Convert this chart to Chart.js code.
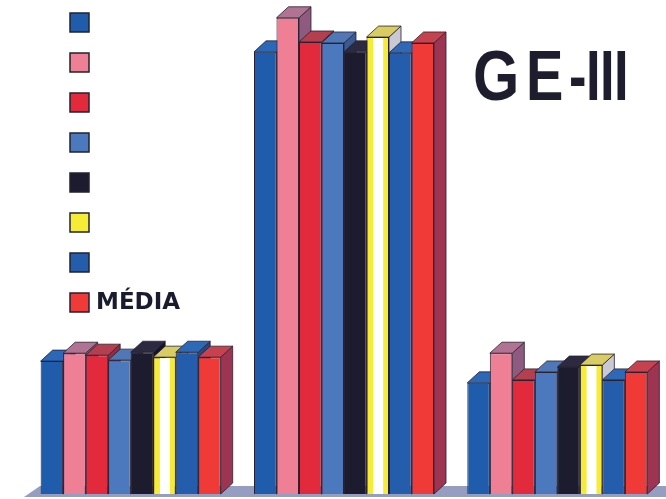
<!DOCTYPE html>
<html>
<head>
<meta charset="utf-8">
<title>GE-III</title>
<script src="https://cdn.jsdelivr.net/npm/chart.js@4.4.1/dist/chart.umd.min.js"></script>
<style>
  html, body { margin: 0; padding: 0; background: #ffffff; }
  #chart { display: block; }
</style>
</head>
<body>
<canvas id="chart" width="666" height="499"></canvas>
<script>
// Data (heights as % of the tallest scale)
const groups = ['', '', ''];
const seriesLabels = ['', '', '', '', '', '', '', 'MÉDIA'];
const serie1 = [26.9, 89.5, 22.5];
const serie2 = [28.5, 96.4, 28.5];
const serie3 = [28.1, 91.5, 23.1];
const serie4 = [27.1, 91.3, 24.7];
const serie5 = [28.7, 89.5, 25.7];
const serie6 = [27.7, 92.5, 26.1];
const serie7 = [28.7, 89.3, 23.1];
const media  = [27.7, 91.3, 24.7];

const frontColors = ['#1f5cab', '#ef7f94', '#e32a3c', '#4c78bd', '#1d1c2e', '#f6ec35', '#235dab', '#ef3a38'];
const topColors   = ['#2c68b8', '#b07392', '#b4404f', '#5078b6', '#2b2a40', '#d9cc62', '#2e69b8', '#c7424f'];
const sideColors  = ['#173f78', '#8f5a7f', '#8f2d42', '#3a5a94', '#14132a', '#c9c9d6', '#1d4a88', '#9c3452'];

const DX = 12, DY = 11;

function poly(ctx, pts, fill) {
    ctx.beginPath();
    ctx.moveTo(pts[0][0], pts[0][1]);
    for (let k = 1; k < pts.length; k++) ctx.lineTo(pts[k][0], pts[k][1]);
    ctx.closePath();
    ctx.fillStyle = fill;
    ctx.fill();
    ctx.strokeStyle = '#2a2030';
    ctx.lineWidth = 0.8;
    ctx.stroke();
}

// 3D look: floor, side and top faces drawn behind the library's front faces
const bar3d = {
    id: 'bar3d',
    beforeDatasetsDraw(chart) {
        const ctx = chart.ctx;
        const area = chart.chartArea;
        const base = chart.scales.y.getPixelForValue(0);
        ctx.save();
        ctx.beginPath();
        ctx.moveTo(area.left, base + 3);
        ctx.lineTo(area.left + 16, base - 8);
        ctx.lineTo(area.right + 20, base - 8);
        ctx.lineTo(area.right + 20, base + 3);
        ctx.closePath();
        ctx.fillStyle = '#959dc0';
        ctx.fill();
        chart.data.datasets.forEach((ds, i) => {
            const meta = chart.getDatasetMeta(i);
            meta.data.forEach(bar => {
                const p = bar.getProps(['x', 'y', 'base', 'width'], true);
                const l = p.x - p.width / 2, r = p.x + p.width / 2;
                poly(ctx, [[r, p.y], [r + DX, p.y - DY], [r + DX, p.base - DY], [r, p.base]], sideColors[i]);
                poly(ctx, [[l, p.y], [l + DX, p.y - DY], [r + DX, p.y - DY], [r, p.y]], topColors[i]);
            });
        });
        ctx.restore();
    },
    afterDatasetsDraw(chart) {
        // white stripe down the yellow bars
        const ctx = chart.ctx;
        const meta = chart.getDatasetMeta(5);
        ctx.save();
        ctx.fillStyle = '#ffffff';
        meta.data.forEach(bar => {
            const p = bar.getProps(['x', 'y', 'base', 'width'], true);
            const l = p.x - p.width / 2;
            ctx.fillRect(l + p.width * 0.3, p.y + 1, p.width * 0.44, p.base - p.y - 1);
        });
        ctx.restore();
    },
    afterDraw(chart) {
        const ctx = chart.ctx;
        ctx.save();
        // legend
        chart.data.datasets.forEach((ds, i) => {
            const y = 13 + i * 40;
            ctx.fillStyle = frontColors[i];
            ctx.fillRect(70, y, 19, 19);
            ctx.strokeStyle = '#222230';
            ctx.lineWidth = 1.5;
            ctx.strokeRect(70, y, 19, 19);
            if (ds.label) {
                ctx.fillStyle = '#1b1b30';
                ctx.font = 'bold 23px "DejaVu Sans"';
                ctx.textBaseline = 'middle';
                ctx.fillText(ds.label, 96, y + 10);
            }
        });
        // title, letters set tight like the original lettering
        ctx.fillStyle = '#1d1d2e';
        ctx.font = 'bold 70px "Liberation Sans"';
        ctx.textBaseline = 'alphabetic';
        const title = [['G', 473, 0.85], ['E', 526, 0.8], ['-', 569, 0.75], ['I', 586, 0.75], ['I', 600, 0.75], ['I', 614, 0.75]];
        title.forEach(([ch, x, sx]) => {
            ctx.save();
            ctx.translate(x, 100);
            ctx.scale(sx, 1);
            ctx.fillText(ch, 0, 0);
            ctx.restore();
        });
        ctx.restore();
    }
};

const allSeries = [serie1, serie2, serie3, serie4, serie5, serie6, serie7, media];

new Chart(document.getElementById('chart').getContext('2d'), {
    type: 'bar',
    data: {
        labels: groups,
        datasets: allSeries.map((values, i) => ({
            label: seriesLabels[i],
            data: values,
            backgroundColor: frontColors[i],
            borderColor: '#2a2030',
            borderWidth: 1,
            categoryPercentage: 0.844,
            barPercentage: 1
        }))
    },
    options: {
        responsive: false,
        animation: false,
        layout: { padding: { left: 24, right: 2, top: 0, bottom: 5 } },
        plugins: {
            legend: { display: false },
            tooltip: { enabled: false }
        },
        scales: {
            x: { display: false },
            y: { display: false, min: 0, max: 100 }
        }
    },
    plugins: [bar3d]
});
</script>
</body>
</html>
